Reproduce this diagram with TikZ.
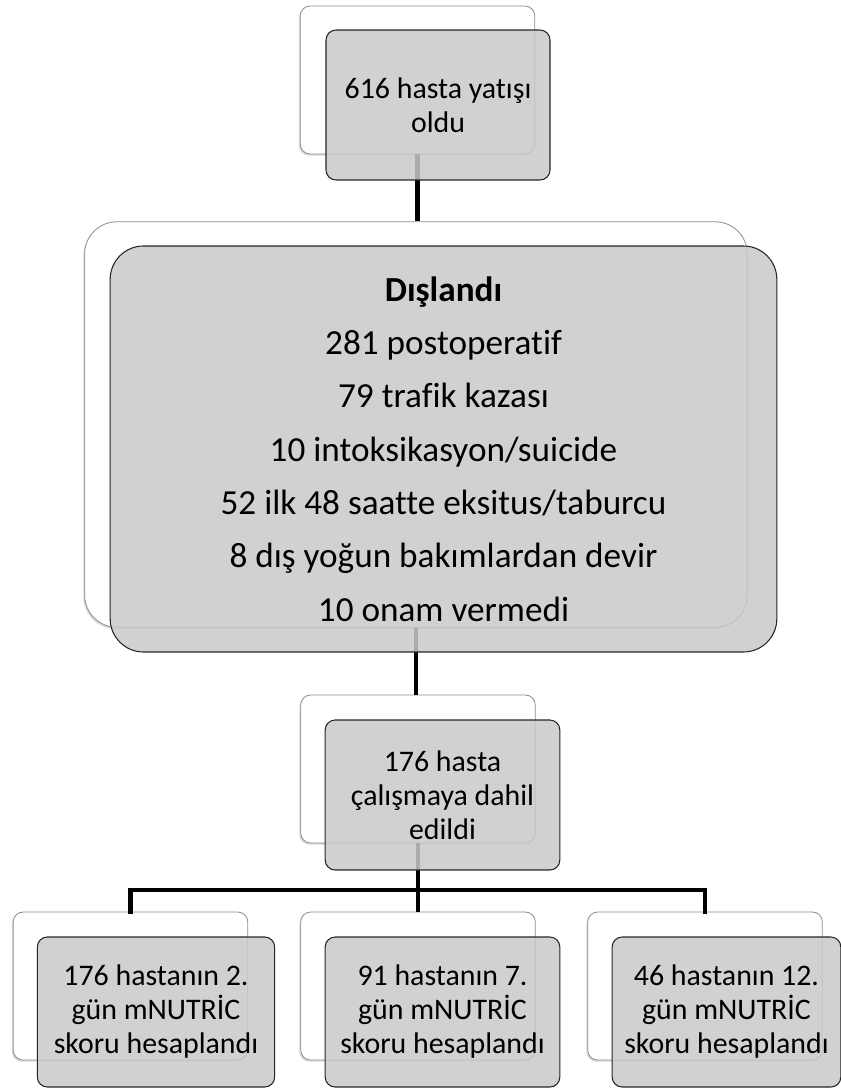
\documentclass[tikz,border=0pt]{standalone}
\usepackage{fontspec}
\setmainfont{Carlito}[Ligatures={NoCommon}]
\usetikzlibrary{shadows}

\tikzset{
  backbox/.style={draw=black!45, line width=0.6pt, fill=white, rounded corners=7.5pt,
    minimum width=176pt, minimum height=111pt, inner sep=0pt,
    drop shadow={shadow xshift=-1pt, shadow yshift=-1.3pt, fill=black, opacity=0.15}},
  frontbox/.style={draw=black!85, line width=0.8pt, fill=black!21, fill opacity=0.85,
    text opacity=1, rounded corners=7.5pt, minimum width=176pt, minimum height=112.5pt,
    inner sep=0pt, align=center, font=\fontsize{22.4}{25.5}\selectfont},
  conn/.style={line width=3.3pt, black},
}

\begin{document}
\begin{tikzpicture}[x=0.75pt, y=-0.75pt]
\useasboundingbox (0,0) rectangle (841,1089);

%% Back boxes
\node[backbox] (topback) at (417.5,80) {};
\node[backbox, rounded corners=24pt, minimum width=497pt, minimum height=304pt] (exback) at (416,424.5) {};
\node[backbox] (incback) at (418,769) {};
\node[backbox] (dayback1) at (130.5,986) {};
\node[backbox] (dayback2) at (418,986) {};
\node[backbox] (dayback3) at (705,986) {};

%% Connectors
\coordinate (bus) at (418,890);
\draw[conn] (topback.south) -- (topback.south |- exback.north);
\draw[conn] (exback.south) -- (exback.south |- incback.north);
\draw[conn] (incback.south) -- (bus);
\draw[conn, line cap=rect] (dayback1.north) -- (dayback1.north |- bus) -- (dayback3.north |- bus) -- (dayback3.north);
\draw[conn] (bus) -- (dayback2.north);

%% Front boxes
\node[frontbox, minimum width=168pt] (admit) at (438,105)
  {616 hasta yatışı\\oldu};
\node[frontbox, rounded corners=25pt, minimum width=500pt, minimum height=304.5pt,
  font=\fontsize{26.4}{40}\selectfont] (excluded) at (443.5,449)
  {\textbf{Dışlandı}\\281 postoperatif\\79 trafik kazası\\10 intoksikasyon/suicide\\
   52 ilk 48 saatte eksitus/taburcu\\8 dış yoğun bakımlardan devir\\10 onam vermedi};
\node[frontbox] (included) at (442.5,795)
  {176 hasta\\çalışmaya dahil\\edildi};
\node[frontbox, minimum width=178pt] (day2) at (156,1012)
  {176 hastanın 2.\\gün mNUTRİC\\skoru hesaplandı};
\node[frontbox] (day7) at (442.5,1012)
  {91 hastanın 7.\\gün mNUTRİC\\skoru hesaplandı};
\node[frontbox, minimum width=171.5pt] (day12) at (726.5,1012)
  {46 hastanın 12.\\gün mNUTRİC\\skoru hesaplandı};

\end{tikzpicture}
\end{document}
